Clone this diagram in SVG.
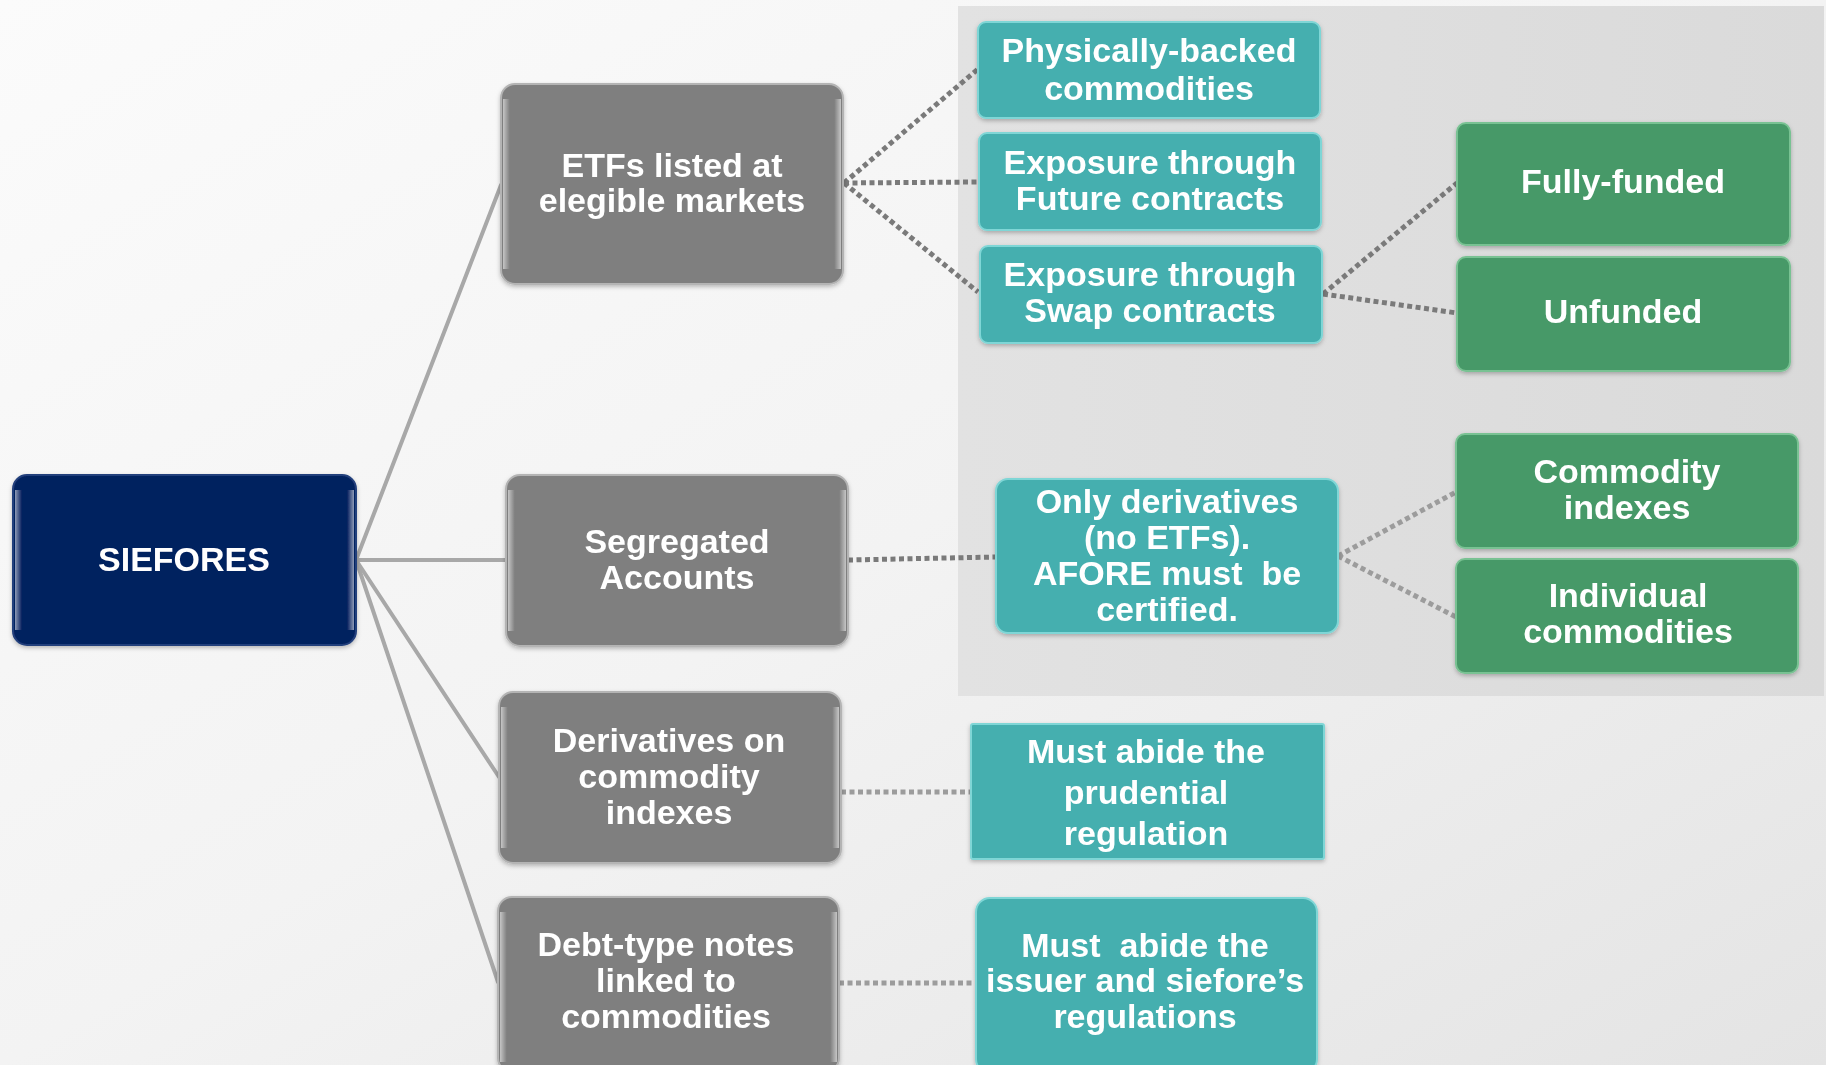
<svg xmlns="http://www.w3.org/2000/svg" width="1826" height="1065" viewBox="0 0 1826 1065">
  <defs>
    <linearGradient id="bg" x1="0" y1="0" x2="1" y2="1">
      <stop offset="0" stop-color="#fbfbfb"/>
      <stop offset="0.5" stop-color="#f3f3f3"/>
      <stop offset="1" stop-color="#e4e4e4"/>
    </linearGradient>
    <linearGradient id="panel" x1="0" y1="0" x2="1" y2="0">
      <stop offset="0" stop-color="#e2e2e2"/>
      <stop offset="1" stop-color="#dadada"/>
    </linearGradient>
    <!-- vertical sheen along the left and right edges of each box -->
    <linearGradient id="sheen" x1="0" y1="0" x2="1" y2="0">
      <stop offset="0" stop-color="#ffffff" stop-opacity="0.55"/>
      <stop offset="0.02" stop-color="#ffffff" stop-opacity="0"/>
      <stop offset="0.98" stop-color="#ffffff" stop-opacity="0"/>
      <stop offset="1" stop-color="#ffffff" stop-opacity="0.55"/>
    </linearGradient>
    <filter id="shadow" x="-5%" y="-5%" width="110%" height="115%">
      <feDropShadow dx="0" dy="2" stdDeviation="2" flood-color="#000" flood-opacity="0.25"/>
    </filter>
  </defs>
  <style>
    .box { filter: url(#shadow); }
    .navy { fill: #06215f; stroke: #24407c; stroke-width: 2; }
    .grey { fill: #7f7f7f; stroke: #b4b4b4; stroke-width: 2; }
    .teal { fill: #45afaf; stroke: #7fd6d6; stroke-width: 2; }
    .green { fill: #479967; stroke: #79c293; stroke-width: 2; }
    .hl { fill: url(#sheen); stroke: none; }
    .lbl { font-family: "Liberation Sans", Arial, sans-serif; font-weight: bold; font-size: 34px; fill: #ffffff; text-anchor: middle; }
    .trunk { stroke: #a8a8a8; stroke-width: 4; fill: none; stroke-linecap: round; }
    .dot { stroke: #7a7a7a; stroke-width: 5; fill: none; stroke-dasharray: 5 3.5; }
    .dotl { stroke: #9c9c9c; stroke-width: 5; fill: none; stroke-dasharray: 5 3.5; }
  </style>

  <!-- backdrop -->
  <rect x="0" y="0" width="1826" height="1065" fill="url(#bg)"/>
  <rect x="958" y="6" width="866" height="690" fill="url(#panel)"/>

  <!-- connectors -->
  <g id="connectors">
    <line class="trunk" x1="356" y1="560" x2="501" y2="185"/>
    <line class="trunk" x1="356" y1="560" x2="506" y2="560"/>
    <line class="trunk" x1="356" y1="560" x2="499" y2="777"/>
    <line class="trunk" x1="356" y1="560" x2="498" y2="982"/>

    <line class="dot" x1="844" y1="183" x2="978" y2="69"/>
    <line class="dot" x1="844" y1="183" x2="978" y2="182"/>
    <line class="dot" x1="844" y1="183" x2="978" y2="292"/>

    <line class="dot" x1="1323" y1="294" x2="1457" y2="183"/>
    <line class="dot" x1="1323" y1="294" x2="1457" y2="313"/>

    <line class="dot" x1="848" y1="560" x2="996" y2="557"/>
    <line class="dotl" x1="1338" y1="556" x2="1456" y2="492"/>
    <line class="dotl" x1="1338" y1="556" x2="1456" y2="617"/>

    <line class="dotl" x1="841" y1="792" x2="971" y2="792"/>
    <line class="dotl" x1="839" y1="983" x2="976" y2="983"/>
  </g>

  <!-- root -->
  <g id="siefores" class="box">
    <rect class="navy" x="13" y="475" width="343" height="170" rx="14"/>
    <rect class="hl" x="15" y="490" width="339" height="140"/>
    <text class="lbl" x="184" y="571">SIEFORES</text>
  </g>

  <!-- first level -->
  <g id="etfs" class="box">
    <rect class="grey" x="501" y="84" width="342" height="200" rx="14"/>
    <rect class="hl" x="503" y="99" width="338" height="170"/>
    <text class="lbl" x="672" y="177">ETFs listed at</text>
    <text class="lbl" x="672" y="212">elegible markets</text>
  </g>
  <g id="segregated" class="box">
    <rect class="grey" x="506" y="475" width="342" height="171" rx="14"/>
    <rect class="hl" x="508" y="490" width="338" height="141"/>
    <text class="lbl" x="677" y="553">Segregated</text>
    <text class="lbl" x="677" y="589">Accounts</text>
  </g>
  <g id="derivatives" class="box">
    <rect class="grey" x="499" y="692" width="342" height="171" rx="14"/>
    <rect class="hl" x="501" y="707" width="338" height="141"/>
    <text class="lbl" x="669" y="752">Derivatives on</text>
    <text class="lbl" x="669" y="788">commodity</text>
    <text class="lbl" x="669" y="824">indexes</text>
  </g>
  <g id="debt" class="box">
    <rect class="grey" x="498" y="897" width="341" height="175" rx="14"/>
    <rect class="hl" x="500" y="912" width="337" height="150"/>
    <text class="lbl" x="666" y="956">Debt-type notes</text>
    <text class="lbl" x="666" y="992">linked to</text>
    <text class="lbl" x="666" y="1028">commodities</text>
  </g>

  <!-- ETF types -->
  <g id="physical" class="box">
    <rect class="teal" x="978" y="22" width="342" height="96" rx="8"/>
    <text class="lbl" x="1149" y="62">Physically-backed</text>
    <text class="lbl" x="1149" y="100">commodities</text>
  </g>
  <g id="future" class="box">
    <rect class="teal" x="979" y="133" width="342" height="97" rx="8"/>
    <text class="lbl" x="1150" y="174">Exposure through</text>
    <text class="lbl" x="1150" y="210">Future contracts</text>
  </g>
  <g id="swap" class="box">
    <rect class="teal" x="980" y="246" width="342" height="97" rx="8"/>
    <text class="lbl" x="1150" y="286">Exposure through</text>
    <text class="lbl" x="1150" y="322">Swap contracts</text>
  </g>

  <!-- swap types -->
  <g id="fully-funded" class="box">
    <rect class="green" x="1457" y="123" width="333" height="122" rx="9"/>
    <text class="lbl" x="1623" y="193">Fully-funded</text>
  </g>
  <g id="unfunded" class="box">
    <rect class="green" x="1457" y="257" width="333" height="114" rx="9"/>
    <text class="lbl" x="1623" y="323">Unfunded</text>
  </g>

  <!-- segregated accounts -->
  <g id="only-derivatives" class="box">
    <rect class="teal" x="996" y="479" width="342" height="154" rx="12"/>
    <text class="lbl" x="1167" y="513">Only derivatives</text>
    <text class="lbl" x="1167" y="549">(no ETFs).</text>
    <text class="lbl" x="1167" y="585" xml:space="preserve">AFORE must  be</text>
    <text class="lbl" x="1167" y="621">certified.</text>
  </g>
  <g id="commodity-indexes" class="box">
    <rect class="green" x="1456" y="434" width="342" height="114" rx="9"/>
    <text class="lbl" x="1627" y="483">Commodity</text>
    <text class="lbl" x="1627" y="519">indexes</text>
  </g>
  <g id="individual" class="box">
    <rect class="green" x="1456" y="559" width="342" height="114" rx="9"/>
    <text class="lbl" x="1628" y="607">Individual</text>
    <text class="lbl" x="1628" y="643">commodities</text>
  </g>

  <!-- regulation notes -->
  <g id="prudential" class="box">
    <rect class="teal" x="971" y="724" width="353" height="135" rx="2"/>
    <text class="lbl" x="1146" y="763">Must abide the</text>
    <text class="lbl" x="1146" y="804">prudential</text>
    <text class="lbl" x="1146" y="845">regulation</text>
  </g>
  <g id="issuer" class="box">
    <rect class="teal" x="976" y="898" width="341" height="175" rx="14"/>
    <text class="lbl" x="1145" y="957" xml:space="preserve">Must  abide the</text>
    <text class="lbl" x="1145" y="992">issuer and siefore’s</text>
    <text class="lbl" x="1145" y="1028">regulations</text>
  </g>
</svg>
